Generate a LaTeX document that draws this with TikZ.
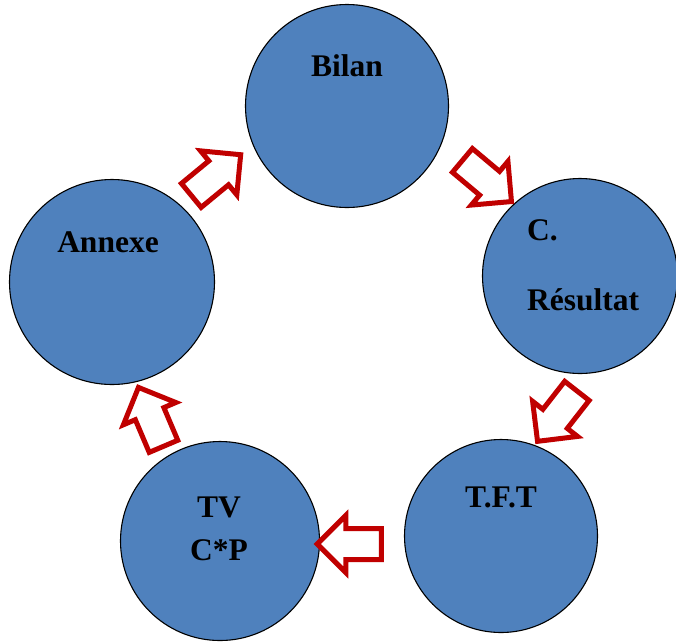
\documentclass[tikz,border=0pt]{standalone}
\usepackage{fontspec}
\setmainfont{Liberation Serif}
\usetikzlibrary{shapes.arrows}
\definecolor{cfill}{HTML}{4F81BD}
\definecolor{ared}{HTML}{C00000}
\tikzset{
  circ/.style={circle, draw=black, line width=1.1pt, fill=cfill, inner sep=0pt},
  blockarrow/.style={single arrow, draw=ared, fill=white, line width=5pt,
    inner sep=13pt, single arrow head extend=13pt, minimum height=64pt,
    single arrow tip angle=90},
  lab/.style={font=\fontsize{31.5}{36}\selectfont\bfseries, inner sep=0pt}
}
\begin{document}
\begin{tikzpicture}[x=1pt, y=-1pt]
\useasboundingbox (0,0) rectangle (676,641);
\node[circ, minimum size=203pt] (bilan) at (347,106) {};
\node[circ, minimum size=195pt] (cres) at (580,276) {};
\node[circ, minimum size=193pt] (tft) at (501,536) {};
\node[circ, minimum size=199pt] (tv) at (220,541) {};
\node[circ, minimum size=205pt] (annexe) at (112,282) {};

\node[lab] (tbilan) at (347,66) {Bilan};
\node[lab, anchor=west] (tc) at (527,230) {C.};
\node[lab, anchor=west] (tres) at (527,300) {Résultat};
\node[lab] (ttft) at (501,497) {T.F.T};
\node[lab] (ttv) at (219,507) {TV};
\node[lab] (tcp) at (219,550) {C*P};
\node[lab] (tann) at (108,242) {Annexe};

\node[blockarrow, rotate=39.5] (a1) at (210,180) {};
\node[blockarrow, rotate=-40] (a2) at (481,176) {};
\node[blockarrow, rotate=232] (a3) at (562,410) {};
\node[blockarrow, rotate=180] (a4) at (357,544) {};
\node[blockarrow, rotate=113] (a5) at (154,424) {};
\end{tikzpicture}
\end{document}
